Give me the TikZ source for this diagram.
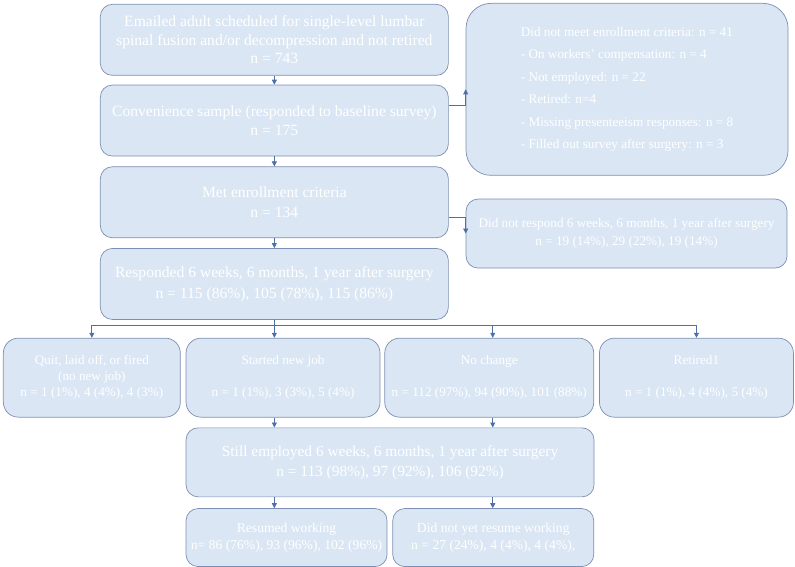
\documentclass[tikz,border=0pt]{standalone}
\usepackage{fontspec}
\setmainfont{Liberation Serif}
\usetikzlibrary{positioning, arrows.meta}
\definecolor{boxfill}{HTML}{DAE6F4}
\definecolor{boxline}{HTML}{7C8FB3}
\definecolor{arrline}{HTML}{4F6FA6}

\begin{document}
\begin{tikzpicture}[
    box/.style={draw=boxline, fill=boxfill, rounded corners=12pt, text=white,
                align=center, inner sep=2pt, line width=0.7pt},
    mainbox/.style={box, minimum width=348pt, minimum height=71pt},
    rowbox/.style={box, minimum height=79pt, rounded corners=15pt,
                   font=\fontsize{13.2}{16}\selectfont},
    endbox/.style={box, minimum width=201pt, minimum height=58pt,
                   font=\fontsize{13.6}{17}\selectfont},
    arr/.style={-{Triangle[length=5pt, width=5pt]}, draw=arrline, line width=0.7pt},
  ]
  % main column
  \node[mainbox, font=\fontsize{15.6}{18.3}\selectfont] (email) {Emailed adult scheduled for single-level lumbar\\spinal fusion and/or decompression and not retired\\n = 743};
  \node[mainbox, below=9pt of email, font=\fontsize{15.6}{18.5}\selectfont] (conv) {Convenience sample (responded to baseline survey)\\n = 175};
  \node[mainbox, below=10pt of conv, font=\fontsize{15.6}{20}\selectfont] (met) {Met enrollment criteria\\n = 134};
  \node[mainbox, below=10pt of met, font=\fontsize{15.6}{21}\selectfont] (resp) {Responded 6 weeks, 6 months, 1 year after surgery\\n = 115 (86\%), 105 (78\%), 115 (86\%)};

  % exclusions
  \node[box, right=17pt of email.north east, anchor=north west, yshift=1pt,
        minimum width=322pt, minimum height=172pt, rounded corners=25pt,
        align=left, font=\fontsize{13.2}{22.5}\selectfont] (excl)
       {Did not meet enrollment criteria: n = 41\\
        - On workers' compensation: n = 4\\
        - Not employed: n = 22\\
        - Retired: n=4\\
        - Missing presenteeism responses: n = 8\\
        - Filled out survey after surgery: n = 3};
  \node[box, below=23pt of excl.south west, anchor=north west,
        minimum width=321pt, minimum height=69pt,
        font=\fontsize{13.2}{18}\selectfont] (nresp)
       {Did not respond 6 weeks, 6 months, 1 year after surgery\\n = 19 (14\%), 29 (22\%), 19 (14\%)};

  % job status row
  \node[rowbox, minimum width=177pt, below=18pt of resp.south west, anchor=north west, xshift=-97pt] (quit)
       {Quit, laid off, or fired\\(no new job)\\n = 1 (1\%), 4 (4\%), 4 (3\%)};
  \node[rowbox, minimum width=194pt, right=5pt of quit] (newjob)
       {Started new job\\[16pt]n = 1 (1\%), 3 (3\%), 5 (4\%)};
  \node[rowbox, minimum width=209pt, right=4pt of newjob] (nochange)
       {No change\\[16pt]n = 112 (97\%), 94 (90\%), 101 (88\%)};
  \node[rowbox, minimum width=194pt, right=5pt of nochange] (retired)
       {Retired1\\[16pt]n = 1 (1\%), 4 (4\%), 5 (4\%)};

  \node[box, below=10pt of newjob.south west, anchor=north west,
        minimum width=408pt, minimum height=69pt,
        font=\fontsize{15.4}{20}\selectfont] (still)
       {Still employed 6 weeks, 6 months, 1 year after surgery\\n = 113 (98\%), 97 (92\%), 106 (92\%)};
  \node[endbox, below=11pt of still.south west, anchor=north west] (resumed)
       {Resumed working\\n= 86 (76\%), 93 (96\%), 102 (96\%)};
  \node[endbox, right=5pt of resumed] (notyet)
       {Did not yet resume working\\n = 27 (24\%), 4 (4\%), 4 (4\%),};

  \coordinate[below=6pt of resp] (split);
  \coordinate[xshift=3.5pt] (nc) at (nochange.south);

  \draw[arr] (email) -- (conv);
  \draw[arr] (conv) -- (met);
  \draw[arr] (met) -- (resp);
  \draw[arr] ([yshift=15pt]conv.east) -| (excl.west);
  \draw[arr] ([yshift=-15pt]met.east) -| (nresp.west);

  \draw[draw=arrline, line width=0.7pt] (resp) -- (split);
  \draw[arr] (split) -| (quit.north);
  \draw[arr] (split) -- (split |- newjob.north);
  \draw[arr] (split) -| (nc |- nochange.north);
  \draw[arr] (split) -| (retired.north);

  \draw[arr] (newjob.south -| split) -- (still.north -| split);
  \draw[arr] (nc) -- (nc |- still.north);
  \draw[arr] (still.south -| split) -- (resumed.north -| split);
  \draw[arr] (nc |- still.south) -- (nc |- notyet.north);

  \useasboundingbox ([shift={(-100pt,4pt)}]email.north west) rectangle ++(795pt,-564pt);
\end{tikzpicture}
\end{document}
